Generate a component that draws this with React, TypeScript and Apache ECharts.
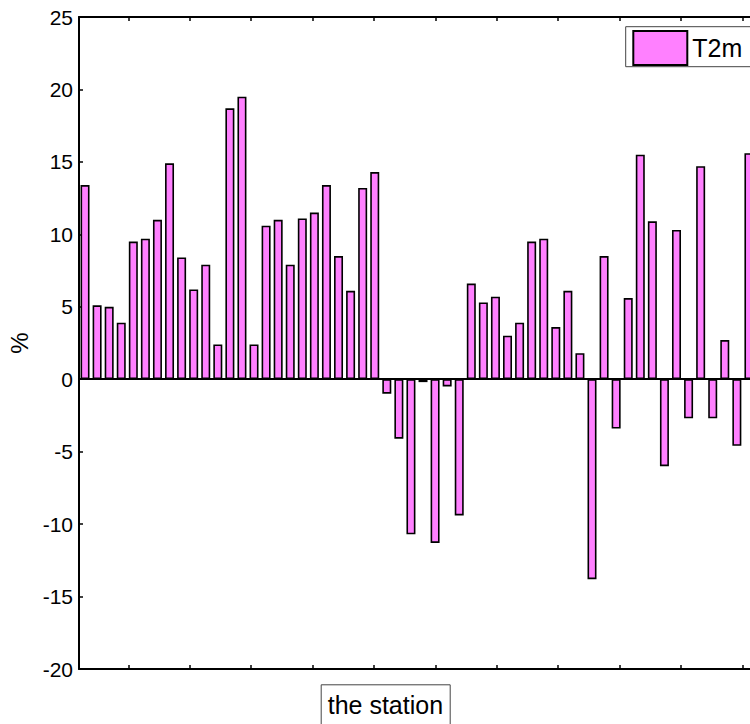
import React, { useEffect, useRef } from "react";
import * as echarts from "echarts";

const seriesName = "T2m";
const t2mValues = [
  13.4, 5.1, 5.0, 3.9, 9.5, 9.7, 11.0, 14.9, 8.4, 6.2, 7.9, 2.4, 18.7, 19.5, 2.4,
  10.6, 11.0, 7.9, 11.1, 11.5, 13.4, 8.5, 6.1, 13.2, 14.3, -1.0, -4.1, -10.7, -0.2,
  -11.3, -0.5, -9.4, 6.6, 5.3, 5.7, 3.0, 3.9, 9.5, 9.7, 3.6, 6.1, 1.8, -13.8, 8.5,
  -3.4, 5.6, 15.5, 10.9, -6.0, 10.3, -2.7, 14.7, -2.7, 2.7, -4.6, 15.6,
];
const yMin = -20;
const yMax = 25;
const yStep = 5;
const xTickPositions = [4.59, 9.68, 14.76, 19.85, 24.93, 30.02, 35.11, 40.2, 45.3, 50.39, 55.47];
const xAxisTitle = "the station";
const yAxisTitle = "%";

const FONT = "'Liberation Sans', Arial, Helvetica, sans-serif";

export default function App() {
  const ref = useRef<HTMLDivElement>(null);
  useEffect(() => {
    if (!ref.current) return;
    const chart = echarts.init(ref.current, undefined, { renderer: "svg" });
    const xBase = {
      type: "value" as const,
      min: 0.5,
      max: 57,
      axisLine: { show: true, onZero: false, lineStyle: { color: "#000", width: 2 } },
      axisTick: { show: true, inside: true, length: 4, customValues: xTickPositions, lineStyle: { color: "#000", width: 1.5 } },
      axisLabel: { show: false },
      splitLine: { show: false },
    };
    const yBase = {
      type: "value" as const,
      min: yMin,
      max: yMax,
      interval: yStep,
      axisLine: { show: true, onZero: false, lineStyle: { color: "#000", width: 2 } },
      axisTick: { show: true, inside: true, length: 4, lineStyle: { color: "#000", width: 1.5 } },
      splitLine: { show: false },
    };
    chart.setOption({
      animation: false,
      backgroundColor: "#fff",
      title: {
        text: xAxisTitle,
        left: 320.7,
        top: 684.3,
        padding: [8, 7, 14, 7],
        borderColor: "#444",
        borderWidth: 1,
        textStyle: { fontSize: 25, fontWeight: "normal", fontFamily: FONT, color: "#000" },
      },
      legend: {
        data: [seriesName],
        left: 625.7,
        top: 26.7,
        icon: "rect",
        itemWidth: 54,
        itemHeight: 34,
        itemGap: 0,
        padding: [3.3, 0, 3, 6.6],
        borderWidth: 0,
        textStyle: { fontSize: 25, fontFamily: FONT, color: "#000" },
      },
      graphic: [
        {
          type: "rect",
          silent: true,
          z: 5,
          shape: { x: 625.7, y: 26.7, width: 200, height: 40 },
          style: { fill: "none", stroke: "#444", lineWidth: 1 },
        },
      ],
      grid: { left: 79, top: 17, width: 682, height: 652, containLabel: false, outerBoundsMode: "none" },
      xAxis: [
        { ...xBase, position: "bottom" },
        { ...xBase, position: "top" },
      ],
      yAxis: [
        {
          ...yBase,
          position: "left",
          axisLabel: { show: true, fontSize: 21, fontFamily: FONT, color: "#000", margin: 6 },
          name: yAxisTitle,
          nameLocation: "middle",
          nameGap: 44,
          nameRotate: 90,
          nameTextStyle: { fontSize: 24, fontFamily: FONT, color: "#000" },
        },
        { ...yBase, position: "right", axisLabel: { show: false } },
      ],
      series: [
        {
          name: seriesName,
          type: "bar",
          xAxisIndex: 0,
          yAxisIndex: 0,
          barWidth: 9,
          data: t2mValues.map((v, i) => [i + 1, v]),
          itemStyle: { color: "#FF80FF", borderColor: "#000", borderWidth: 1.6 },
          markLine: {
            silent: true,
            symbol: ["none", "none"],
            label: { show: false },
            lineStyle: { color: "#000", width: 2, type: "solid" },
            data: [{ yAxis: 0 }],
          },
        },
      ],
    });
    return () => chart.dispose();
  }, []);
  return (
    <div style={{ position: "fixed", left: 0, top: 0, width: 750, height: 724, overflow: "hidden", background: "#fff" }}>
      <div ref={ref} style={{ width: 800, height: 724 }} />
    </div>
  );
}
